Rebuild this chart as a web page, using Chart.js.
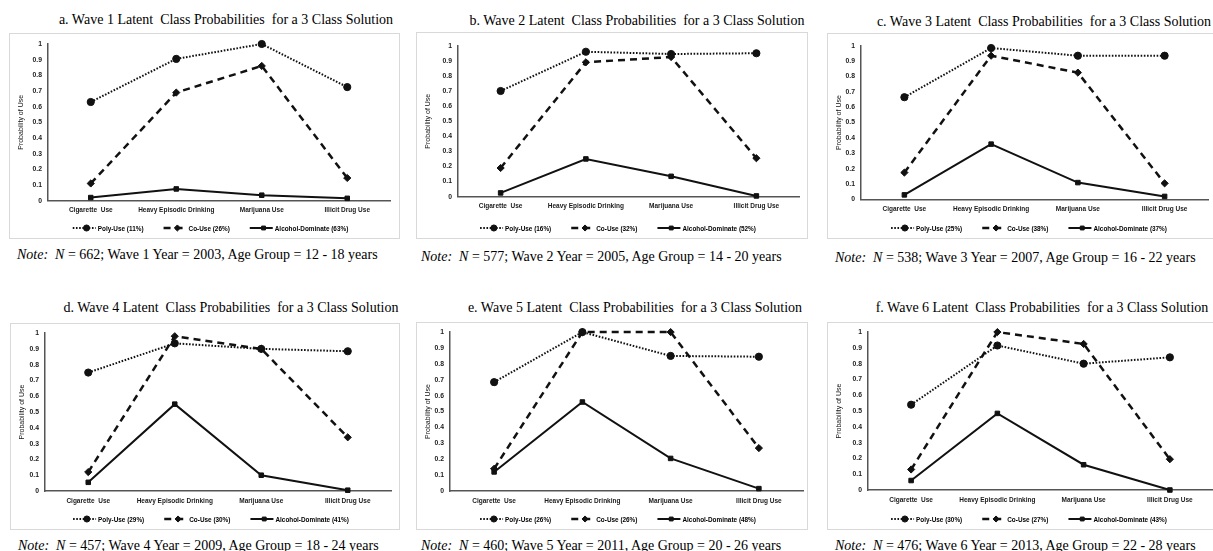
<!DOCTYPE html>
<html><head><meta charset="utf-8">
<script src="https://cdn.jsdelivr.net/npm/chart.js@4.4.1/dist/chart.umd.min.js"></script>
<style>
html,body{margin:0;padding:0;background:#fff;}
body{width:1213px;height:551px;position:relative;overflow:hidden;}
.box{position:absolute;border:1px solid #d9d9d9;box-sizing:border-box;overflow:hidden;}
.box canvas{position:absolute;left:-1px;top:-1px;}
.ttl,.note{position:absolute;font-family:"Liberation Serif","Times New Roman",serif;font-size:14px;white-space:pre;color:#000;line-height:1;}
.ttl{transform:translate(-50%,-50%);}
.note{transform:translateY(-50%);}
</style></head><body>
<script>
// ---------- DATA ----------
const categories = ["Cigarette  Use", "Heavy Episodic Drinking", "Marijuana Use", "Illicit Drug Use"];
const yTickValues = [0, 0.1, 0.2, 0.3, 0.4, 0.5, 0.6, 0.7, 0.8, 0.9, 1];
const panelLetters = ["a", "b", "c", "d", "e", "f"];
const waves = [1, 2, 3, 4, 5, 6];
const waveYears = [2003, 2005, 2007, 2009, 2011, 2013];
const sampleN = [662, 577, 538, 457, 460, 476];
const ageGroups = ["12 - 18", "14 - 20", "16 - 22", "18 - 24", "20 - 26", "22 - 28"];

const polyShare = [11, 16, 25, 29, 26, 30];
const coShare = [26, 32, 38, 30, 26, 27];
const alcShare = [63, 52, 37, 41, 48, 43];

const polyUse = [
  [0.63, 0.905, 1.0, 0.725],
  [0.70, 0.96, 0.945, 0.95],
  [0.665, 0.985, 0.935, 0.935],
  [0.75, 0.935, 0.90, 0.885],
  [0.685, 1.0, 0.85, 0.845],
  [0.54, 0.915, 0.80, 0.84]
];
const coUse = [
  [0.11, 0.69, 0.86, 0.145],
  [0.19, 0.89, 0.925, 0.255],
  [0.175, 0.935, 0.825, 0.105],
  [0.12, 0.98, 0.90, 0.34],
  [0.14, 1.0, 1.0, 0.27],
  [0.13, 1.0, 0.925, 0.195]
];
const alcoholDominate = [
  [0.02, 0.075, 0.035, 0.015],
  [0.025, 0.25, 0.135, 0.005],
  [0.03, 0.36, 0.11, 0.02],
  [0.055, 0.55, 0.10, 0.005],
  [0.12, 0.56, 0.205, 0.015],
  [0.06, 0.485, 0.16, 0.0]
];

// ---------- LAYOUT (page pixels) ----------
const layout = [
  {box:[9,33,391,206],  plot:[48,390,44,200.7],   title:[226,20],  note:[17,255]},
  {box:[416,32,392,207],plot:[458,799,45.7,196.7],title:[637,21],  note:[421,257]},
  {box:[827,33,392,206],plot:[861,1208,45.7,199.5], title:[1044,22], note:[835,258]},
  {box:[10,323,390,207],plot:[45,391,332,491],    title:[231,308], note:[18,546]},
  {box:[416,322,392,208],plot:[450,804,332,491],  title:[635,308], note:[421,546]},
  {box:[827,322,392,208],plot:[868,1213,332,490], title:[1042,308],note:[835,546]}
];

const INK = '#111';
const yTickFont = {family:"'Liberation Sans',sans-serif", size:6.8, weight:'bold'};
const xTickFont = {family:"'Liberation Sans',sans-serif", size:6.5, weight:'bold'};
const legendFontStr = "bold 6.4px 'Liberation Sans',sans-serif";

const lineLegend = {
  id: 'lineLegend',
  afterDraw(chart) {
    const ctx = chart.ctx;
    const y = chart.height - 11;
    const sampleW = 23, gap = 2, spacing = 20;
    ctx.save();
    ctx.font = legendFontStr;
    const items = chart.data.datasets.map(ds => ({ds, w: sampleW + gap + ctx.measureText(ds.label).width}));
    const total = items.reduce((s, it) => s + it.w, 0) + spacing * (items.length - 1);
    let x = chart.width / 2 + 6 - total / 2;
    items.forEach(({ds, w}) => {
      ctx.save();
      ctx.strokeStyle = ds.borderColor;
      ctx.lineWidth = ds.borderWidth;
      ctx.setLineDash(ds.borderDash || []);
      ctx.beginPath(); ctx.moveTo(x, y); ctx.lineTo(x + sampleW, y); ctx.stroke();
      ctx.restore();
      ctx.fillStyle = INK; ctx.strokeStyle = INK;
      Chart.helpers.drawPoint(ctx, {pointStyle: ds.pointStyle, radius: ds.pointRadius * 0.85, borderWidth: 1, rotation: 0}, x + sampleW * 0.6, y);
      ctx.fillStyle = '#000';
      ctx.textBaseline = 'middle'; ctx.textAlign = 'left';
      ctx.fillText(ds.label, x + sampleW + gap, y + 1);
      x += w + spacing;
    });
    ctx.restore();
  }
};

function addText(cls, html, x, y) {
  const d = document.createElement('div');
  d.className = cls; d.innerHTML = html;
  d.style.left = x + 'px'; d.style.top = y + 'px';
  document.body.appendChild(d);
}

waves.forEach((w, i) => {
  const L = layout[i];
  const [bx, by, bw, bh] = L.box;
  const [pl, pr, pt, pb] = L.plot;
  addText('ttl', `${panelLetters[i]}. Wave ${w} Latent  Class Probabilities  for a 3 Class Solution`, L.title[0], L.title[1]);
  addText('note', `<i>Note:</i>  <i>N</i> = ${sampleN[i]}; Wave ${w} Year = ${waveYears[i]}, Age Group = ${ageGroups[i]} years`, L.note[0], L.note[1]);

  const box = document.createElement('div');
  box.className = 'box';
  box.style.left = bx + 'px'; box.style.top = by + 'px';
  box.style.width = bw + 'px'; box.style.height = bh + 'px';
  document.body.appendChild(box);
  const cv = document.createElement('canvas');
  cv.width = bw; cv.height = bh;
  cv.style.width = bw + 'px'; cv.style.height = bh + 'px';
  box.appendChild(cv);

  const yW = pl - bx, topPad = pt - by, rightPad = bx + bw - pr, xH = by + bh - pb;

  new Chart(cv, {
    type: 'line',
    data: {
      labels: categories,
      datasets: [
        {label: `Poly-Use (${polyShare[i]}%)`, data: polyUse[i], borderColor: INK, backgroundColor: INK,
         borderWidth: 2, borderDash: [1.6, 1.6], pointStyle: 'circle', pointRadius: 3.6, pointBorderWidth: 1, tension: 0, clip: false},
        {label: `Co-Use (${coShare[i]}%)`, data: coUse[i], borderColor: INK, backgroundColor: INK,
         borderWidth: 2.5, borderDash: [7, 5], pointStyle: 'rectRot', pointRadius: 3.6, pointBorderWidth: 1, tension: 0, clip: false},
        {label: `Alcohol-Dominate (${alcShare[i]}%)`, data: alcoholDominate[i], borderColor: INK, backgroundColor: INK,
         borderWidth: 2, pointStyle: 'rect', pointRadius: 3.2, pointBorderWidth: 1, tension: 0, clip: false}
      ]
    },
    options: {
      responsive: false, animation: false, devicePixelRatio: 1,
      layout: {padding: {left: 0, top: topPad, right: rightPad, bottom: 0}},
      plugins: {legend: {display: false}, tooltip: {enabled: false}, title: {display: false}},
      scales: {
        x: {
          offset: true,
          grid: {display: false, drawTicks: false},
          border: {display: true, color: '#555', width: 1.5},
          ticks: {font: xTickFont, color: '#1a1a1a', padding: 6, maxRotation: 0, autoSkip: false},
          afterFit(s) { s.height = xH; }
        },
        y: {
          min: 0, max: 1,
          afterBuildTicks(s) { s.ticks = yTickValues.map(v => ({value: v})); },
          grid: {display: false, drawTicks: false},
          border: {display: true, color: '#555', width: 1.5},
          ticks: {font: yTickFont, color: '#1a1a1a', padding: 6,
                  callback: v => (v === 0 ? '0' : v === 1 ? '1' : Number(v).toFixed(1))},
          title: {display: true, text: 'Probability of Use', color: '#111',
                  font: {family: "'Liberation Sans',sans-serif", size: 7}, padding: {top: 8, bottom: 0}},
          afterFit(s) { s.width = yW; }
        }
      }
    },
    plugins: [lineLegend]
  });
});
</script>
</body></html>
